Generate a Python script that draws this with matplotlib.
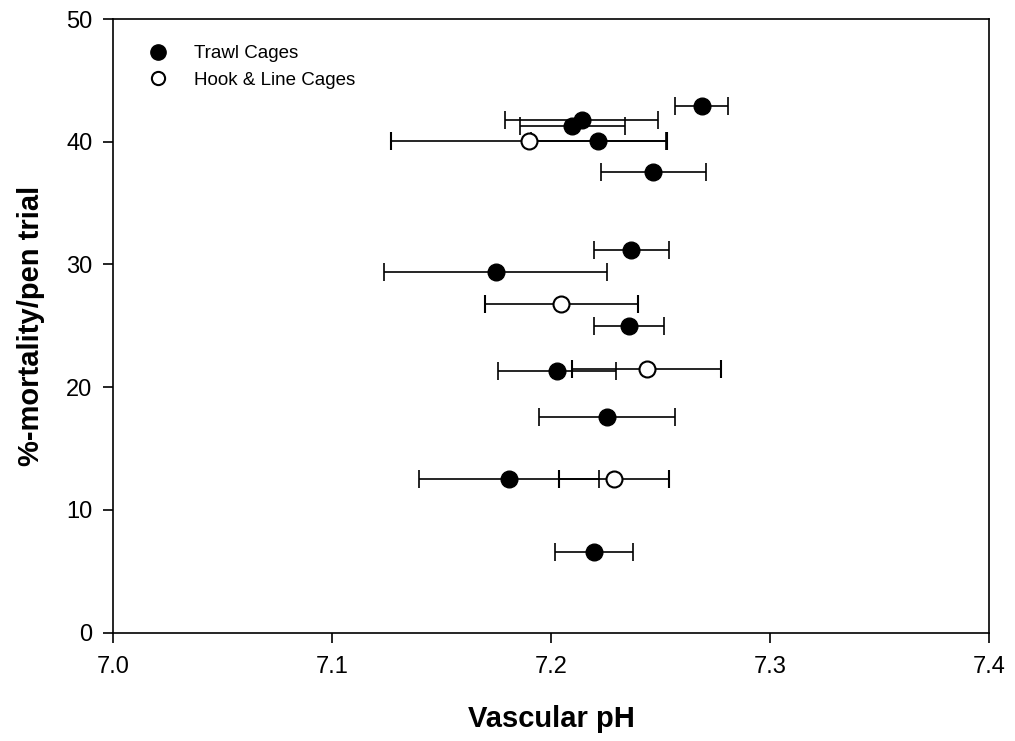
import matplotlib
matplotlib.use("Agg")
import matplotlib.pyplot as plt
from matplotlib.lines import Line2D

plt.rcParams['font.family'] = ['Liberation Sans', 'DejaVu Sans']

# Trawl cages
trawl_ph = [7.2687, 7.2139, 7.2096, 7.2216, 7.2466, 7.2367, 7.1747, 7.2356, 7.2027, 7.2256, 7.1807, 7.2196]
trawl_mort = [42.95, 41.78, 41.32, 40.07, 37.57, 31.19, 29.37, 25.0, 21.35, 17.6, 12.5, 6.6]
trawl_err = [0.012, 0.035, 0.024, 0.031, 0.024, 0.017, 0.051, 0.016, 0.027, 0.031, 0.041, 0.018]

# Hook & line cages
hook_ph = [7.1900, 7.2047, 7.2436, 7.2288]
hook_mort = [40.07, 26.76, 21.47, 12.55]
hook_err = [0.063, 0.035, 0.034, 0.025]

xticks = [7.0, 7.1, 7.2, 7.3, 7.4]
yticks = [0, 10, 20, 30, 40, 50]

fig = plt.figure(figsize=(10.15, 7.41), dpi=100)
ax = fig.add_axes([113.3/1015, (741-632.7)/741, (989-113.3)/1015, (632.7-19)/741])

ax.errorbar(trawl_ph, trawl_mort, xerr=trawl_err, fmt='o', color='black',
            ms=12, mfc='black', mec='black', ecolor='black', elinewidth=1.2,
            capsize=6.5, capthick=1.2, zorder=3)
ax.errorbar(hook_ph, hook_mort, xerr=hook_err, fmt='o', color='black',
            ms=11.5, mfc='white', mec='black', mew=1.5, ecolor='black', elinewidth=1.2,
            capsize=6.5, capthick=1.2, zorder=4)

ax.set_xlim(7.0, 7.4)
ax.set_ylim(0, 50)
ax.set_xticks(xticks)
ax.set_yticks(yticks)
ax.set_xticklabels([f"{v:.1f}" for v in xticks])
ax.set_yticklabels([str(v) for v in yticks])
ax.tick_params(direction='out', length=7, width=1.2, labelsize=17,
               top=False, right=False)
ax.tick_params(axis='x', pad=10)
ax.tick_params(axis='y', pad=8)
for s in ax.spines.values():
    s.set_linewidth(1.2)

ax.set_xlabel('Vascular pH', fontsize=21, fontweight='bold', labelpad=19)
ax.set_ylabel('%-mortality/pen trial', fontsize=21, fontweight='bold', labelpad=15)

handles = [
    Line2D([], [], marker='o', ls='none', ms=11, mfc='black', mec='black'),
    Line2D([], [], marker='o', ls='none', ms=9.5, mfc='white', mec='black', mew=1.5),
]
ax.legend(handles, ['Trawl Cages', 'Hook & Line Cages'], loc='upper left',
          bbox_to_anchor=(0.0294, 0.9695), frameon=False, fontsize=13.5,
          handletextpad=1.32, labelspacing=0.51, handlelength=1.2,
          borderaxespad=0)

fig.savefig('out.png', dpi=100)
